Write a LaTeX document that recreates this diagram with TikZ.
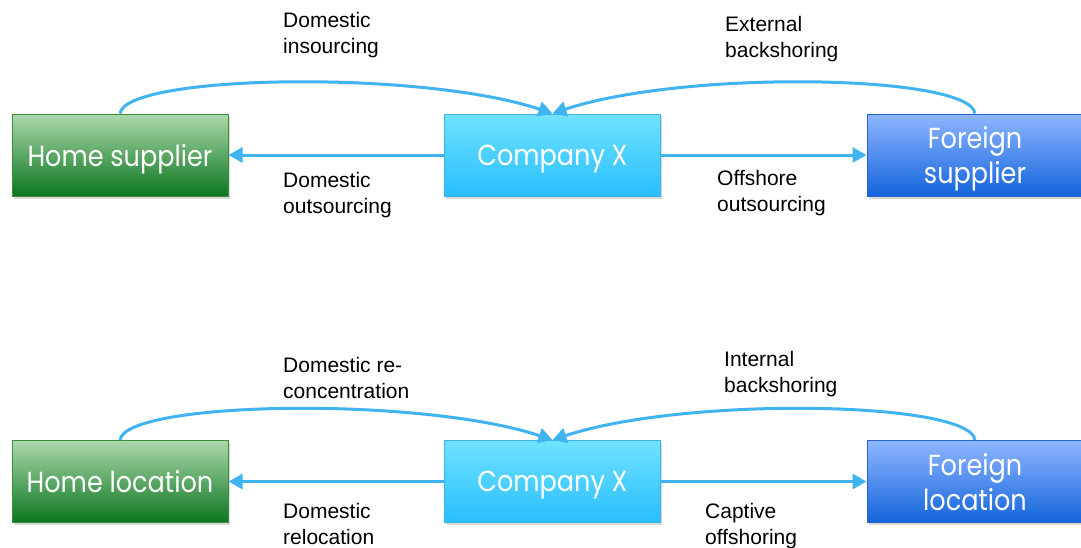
\documentclass[tikz,border=0pt]{standalone}
\usepackage{fontspec}
\setmainfont{Liberation Sans}
\newfontfamily\boxfont[FakeStretch=0.88]{Poppins}
\usetikzlibrary{arrows.meta,shadows}
\definecolor{arr}{RGB}{64,180,240}
\definecolor{gtop}{RGB}{172,216,172}
\definecolor{gbot}{RGB}{10,118,30}
\definecolor{gdraw}{RGB}{60,140,60}
\definecolor{ctop}{RGB}{112,226,255}
\definecolor{cbot}{RGB}{40,190,255}
\definecolor{cdraw}{RGB}{60,180,235}
\definecolor{btop}{RGB}{142,182,255}
\definecolor{bbot}{RGB}{20,100,220}
\definecolor{bdraw}{RGB}{40,100,200}
\begin{document}
\begin{tikzpicture}[x=1pt,y=-1pt,
  box/.style={minimum width=216pt, minimum height=82pt, inner sep=0pt,
    text=white, line width=1pt, align=center, text depth=0pt,
    font=\boxfont\fontsize{29}{35}\selectfont,
    drop shadow={opacity=0.3, shadow xshift=1.5pt, shadow yshift=-2.5pt}},
  greenbox/.style={box, draw=gdraw, top color=gtop, bottom color=gbot},
  cyanbox/.style={box, draw=cdraw, top color=ctop, bottom color=cbot},
  bluebox/.style={box, draw=bdraw, top color=btop, bottom color=bbot},
  conn/.style={draw=arr, line width=3pt, -{Triangle[length=14pt,width=15pt]}},
  lbl/.style={anchor=base west, inner sep=0pt, font=\fontsize{21}{26}\selectfont}
]
\useasboundingbox[fill=white] (0,0) rectangle (1081,547);

% top row
\node[greenbox] (hs) at (120,155) {Home supplier};
\node[cyanbox] (cx1) at (552.5,155) {Company X};
\node[bluebox] (fs) at (975,155) {Foreign\\supplier};

\draw[conn] (hs.north) .. controls +(5,-39) and +(-132,-44) .. (cx1.north);
\draw[conn] (fs.north) .. controls +(-5,-39) and +(132,-44) .. (cx1.north);
\draw[conn] (cx1.west) -- (hs.east);
\draw[conn] (cx1.east) -- (fs.west);

\node[lbl] (l1) at (283,27) {\begin{tabular}[t]{@{}l@{}}Domestic\\insourcing\end{tabular}};
\node[lbl] (l2) at (725,31) {\begin{tabular}[t]{@{}l@{}}External\\backshoring\end{tabular}};
\node[lbl] (l3) at (283,187) {\begin{tabular}[t]{@{}l@{}}Domestic\\outsourcing\end{tabular}};
\node[lbl] (l4) at (717,185) {\begin{tabular}[t]{@{}l@{}}Offshore\\outsourcing\end{tabular}};

% bottom row
\node[greenbox] (hl) at (120,481.5) {Home location};
\node[cyanbox] (cx2) at (552.5,481.5) {Company X};
\node[bluebox] (fl) at (975,481.5) {Foreign\\location};

\draw[conn] (hl.north) .. controls +(5,-39) and +(-132,-44) .. (cx2.north);
\draw[conn] (fl.north) .. controls +(-5,-39) and +(132,-44) .. (cx2.north);
\draw[conn] (cx2.west) -- (hl.east);
\draw[conn] (cx2.east) -- (fl.west);

\node[lbl] (l5) at (283,372) {\begin{tabular}[t]{@{}l@{}}Domestic re-\\concentration\end{tabular}};
\node[lbl] (l6) at (724,366) {\begin{tabular}[t]{@{}l@{}}Internal\\backshoring\end{tabular}};
\node[lbl] (l7) at (283,518) {\begin{tabular}[t]{@{}l@{}}Domestic\\relocation\end{tabular}};
\node[lbl] (l8) at (705,518) {\begin{tabular}[t]{@{}l@{}}Captive\\offshoring\end{tabular}};
\end{tikzpicture}
\end{document}
